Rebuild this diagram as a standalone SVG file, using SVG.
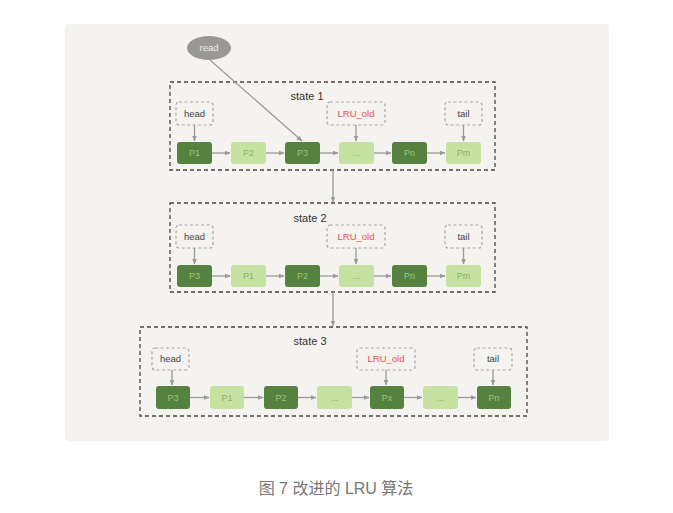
<svg xmlns="http://www.w3.org/2000/svg" width="673" height="513" viewBox="0 0 673 513">
<defs>
<marker id="ah" viewBox="0 0 10 10" refX="9" refY="5" markerWidth="6" markerHeight="6" orient="auto" markerUnits="userSpaceOnUse">
<path d="M0,1 L10,5 L0,9 z" fill="#9a9a9a"/>
</marker>
<style>
.state{fill:none;stroke:#444;stroke-width:1.3;stroke-dasharray:4,3}
.lbl{fill:none;stroke:#a8a8a8;stroke-width:1.2;stroke-dasharray:3,2.5}
.dk{fill:#55833f}
.lt{fill:#c6e2a0}
.tdk{font-family:"Liberation Sans",Arial,sans-serif;font-size:9px;fill:#9cc47a;text-anchor:middle}
.tlt{font-family:"Liberation Sans",Arial,sans-serif;font-size:9px;fill:#8aaf6a;text-anchor:middle}
.tl{font-family:"Liberation Sans",Arial,sans-serif;font-size:9.5px;fill:#444;text-anchor:middle}
.tr{font-family:"Liberation Sans",Arial,sans-serif;font-size:9.5px;fill:#f05050;text-anchor:middle}
.ts{font-family:"Liberation Sans",Arial,sans-serif;font-size:11px;fill:#333;text-anchor:middle}
.ln{stroke:#9a9a9a;stroke-width:1.3;fill:none;marker-end:url(#ah)}
</style>
</defs>
<rect width="673" height="513" fill="#ffffff"/>
<rect x="65" y="24" width="544" height="417" rx="4" fill="#f4f3ef"/>

<g id="read">
<ellipse cx="209" cy="48" rx="22" ry="12" fill="#999894"/>
<text x="209" y="51" class="tl" style="fill:#eeeeee">read</text>
</g>

<g id="state1">
<rect x="170" y="82" width="325" height="88" class="state"/>
<text x="307" y="100" class="ts">state 1</text>
</g>
<g id="s1-head"><rect x="176" y="102" width="37" height="23" rx="3" class="lbl"/><text x="194.5" y="116.5" class="tl">head</text></g>
<g id="s1-lru"><rect x="327" y="102" width="58" height="23" rx="3" class="lbl"/><text x="356" y="116.5" class="tr">LRU_old</text></g>
<g id="s1-tail"><rect x="445" y="102" width="37" height="23" rx="3" class="lbl"/><text x="463.5" y="116.5" class="tl">tail</text></g>
<g id="s1-p1"><rect x="177" y="142" width="35" height="22" rx="3" class="dk"/><text x="194.5" y="156" class="tdk">P1</text></g>
<g id="s1-p2"><rect x="231" y="142" width="35" height="22" rx="3" class="lt"/><text x="248.5" y="156" class="tlt">P2</text></g>
<g id="s1-p3"><rect x="285" y="142" width="35" height="22" rx="3" class="dk"/><text x="302.5" y="156" class="tdk">P3</text></g>
<g id="s1-dots"><rect x="339" y="142" width="35" height="22" rx="3" class="lt"/><text x="356.5" y="156" class="tlt">...</text></g>
<g id="s1-pn"><rect x="392" y="142" width="35" height="22" rx="3" class="dk"/><text x="409.5" y="156" class="tdk">Pn</text></g>
<g id="s1-pm"><rect x="446" y="142" width="35" height="22" rx="3" class="lt"/><text x="463.5" y="156" class="tlt">Pm</text></g>

<g id="state2">
<rect x="170" y="203" width="325" height="89" class="state"/>
<text x="310" y="222" class="ts">state 2</text>
</g>
<g id="s2-head"><rect x="176" y="225" width="37" height="23" rx="3" class="lbl"/><text x="194.5" y="239.5" class="tl">head</text></g>
<g id="s2-lru"><rect x="327" y="225" width="58" height="23" rx="3" class="lbl"/><text x="356" y="239.5" class="tr">LRU_old</text></g>
<g id="s2-tail"><rect x="445" y="225" width="37" height="23" rx="3" class="lbl"/><text x="463.5" y="239.5" class="tl">tail</text></g>
<g id="s2-p3"><rect x="177" y="265" width="35" height="22" rx="3" class="dk"/><text x="194.5" y="279" class="tdk">P3</text></g>
<g id="s2-p1"><rect x="231" y="265" width="35" height="22" rx="3" class="lt"/><text x="248.5" y="279" class="tlt">P1</text></g>
<g id="s2-p2"><rect x="285" y="265" width="35" height="22" rx="3" class="dk"/><text x="302.5" y="279" class="tdk">P2</text></g>
<g id="s2-dots"><rect x="339" y="265" width="35" height="22" rx="3" class="lt"/><text x="356.5" y="279" class="tlt">...</text></g>
<g id="s2-pn"><rect x="392" y="265" width="35" height="22" rx="3" class="dk"/><text x="409.5" y="279" class="tdk">Pn</text></g>
<g id="s2-pm"><rect x="446" y="265" width="35" height="22" rx="3" class="lt"/><text x="463.5" y="279" class="tlt">Pm</text></g>

<g id="state3">
<rect x="140" y="327" width="387" height="89" class="state"/>
<text x="310" y="345" class="ts">state 3</text>
</g>
<g id="s3-head"><rect x="152" y="348" width="37" height="22" rx="3" class="lbl"/><text x="170.5" y="362" class="tl">head</text></g>
<g id="s3-lru"><rect x="357" y="348" width="58" height="22" rx="3" class="lbl"/><text x="386" y="362" class="tr">LRU_old</text></g>
<g id="s3-tail"><rect x="474" y="348" width="38" height="22" rx="3" class="lbl"/><text x="493" y="362" class="tl">tail</text></g>
<g id="s3-p3"><rect x="156" y="386" width="34" height="23" rx="3" class="dk"/><text x="173" y="400.5" class="tdk">P3</text></g>
<g id="s3-p1"><rect x="210" y="386" width="34" height="23" rx="3" class="lt"/><text x="227" y="400.5" class="tlt">P1</text></g>
<g id="s3-p2"><rect x="264" y="386" width="34" height="23" rx="3" class="dk"/><text x="281" y="400.5" class="tdk">P2</text></g>
<g id="s3-dots1"><rect x="317" y="386" width="35" height="23" rx="3" class="lt"/><text x="334.5" y="400.5" class="tlt">...</text></g>
<g id="s3-px"><rect x="370" y="386" width="34" height="23" rx="3" class="dk"/><text x="387" y="400.5" class="tdk">Px</text></g>
<g id="s3-dots2"><rect x="423" y="386" width="35" height="23" rx="3" class="lt"/><text x="440.5" y="400.5" class="tlt">...</text></g>
<g id="s3-pn"><rect x="477" y="386" width="34" height="23" rx="3" class="dk"/><text x="494" y="400.5" class="tdk">Pn</text></g>

<g id="connectors">
<path d="M210,60 L302,141" class="ln"/>
<path d="M194.5,125 V141" class="ln"/>
<path d="M356,125 V141" class="ln"/>
<path d="M463.5,125 V141" class="ln"/>
<path d="M212,153 H230" class="ln"/>
<path d="M266,153 H284" class="ln"/>
<path d="M320,153 H338" class="ln"/>
<path d="M374,153 H391" class="ln"/>
<path d="M427,153 H445" class="ln"/>
<path d="M333,170 V202" class="ln"/>
<path d="M194.5,248 V264" class="ln"/>
<path d="M356,248 V264" class="ln"/>
<path d="M463.5,248 V264" class="ln"/>
<path d="M212,276 H230" class="ln"/>
<path d="M266,276 H284" class="ln"/>
<path d="M320,276 H338" class="ln"/>
<path d="M374,276 H391" class="ln"/>
<path d="M427,276 H445" class="ln"/>
<path d="M333,292 V326" class="ln"/>
<path d="M172,370 V385" class="ln"/>
<path d="M386,370 V385" class="ln"/>
<path d="M493,370 V385" class="ln"/>
<path d="M190,397.5 H209" class="ln"/>
<path d="M244,397.5 H263" class="ln"/>
<path d="M298,397.5 H316" class="ln"/>
<path d="M352,397.5 H369" class="ln"/>
<path d="M404,397.5 H422" class="ln"/>
<path d="M458,397.5 H476" class="ln"/>
</g>

<text x="336" y="494" font-family="'Liberation Sans','Noto Sans CJK SC',sans-serif" font-size="16" fill="#777" text-anchor="middle">图 7 改进的 LRU 算法</text>
</svg>
